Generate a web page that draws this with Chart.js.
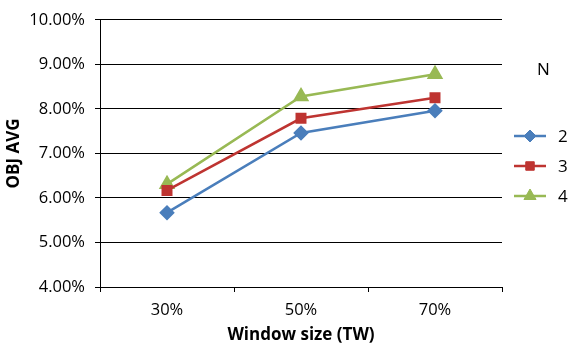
<!DOCTYPE html>
<html><head><meta charset="utf-8">
<script src="https://cdn.jsdelivr.net/npm/chart.js@4/dist/chart.umd.min.js"></script>
<style>html,body{margin:0;padding:0;background:#fff}#wrap{width:568px;height:349px}</style>
</head><body><div id="wrap"><canvas id="c" width="568" height="349"></canvas></div>
<script>
const categories = ["30%", "50%", "70%"];
const seriesNames = ["2", "3", "4"];
const series2 = [5.67, 7.46, 7.96];
const series3 = [6.17, 7.79, 8.25];
const series4 = [6.31, 8.28, 8.78];
const yTicks = [4, 5, 6, 7, 8, 9, 10];
const colors = ["#4A7EBB", "#BE3431", "#98B954"];
const styles = ["rectRot", "rect", "triangle"];
const radii = [6, 6, 7];
const FONT = "'Open Sans', 'DejaVu Sans', sans-serif";

const legendPlugin = {
  id: 'sideLegend',
  afterDraw(chart) {
    const ctx = chart.ctx;
    ctx.save();
    ctx.font = '17px ' + FONT;
    ctx.textBaseline = 'middle';
    ctx.textAlign = 'left';
    ctx.fillStyle = '#000';
    ctx.fillText('N', 537, 70);
    chart.data.datasets.forEach((ds, i) => {
      const y = 136 + i * 30;
      ctx.strokeStyle = ds.borderColor;
      ctx.lineWidth = 2.5;
      ctx.beginPath(); ctx.moveTo(514, y); ctx.lineTo(546, y); ctx.stroke();
      ctx.fillStyle = ds.borderColor;
      ctx.strokeStyle = ds.borderColor;
      ctx.lineWidth = 1;
      Chart.helpers.drawPoint(ctx, {pointStyle: ds.pointStyle, radius: ds.pointRadius, borderWidth: 1, rotation: 0}, 530, y);
      ctx.fillStyle = '#000';
      ctx.fillText(ds.label, 558, y + 1);
    });
    ctx.restore();
  }
};

const vals = [series2, series3, series4];
const datasets = seriesNames.map((n, i) => ({
  label: n,
  data: vals[i],
  borderColor: colors[i],
  backgroundColor: colors[i],
  pointBackgroundColor: colors[i],
  pointBorderColor: colors[i],
  pointStyle: styles[i],
  pointRadius: radii[i],
  borderWidth: 2.5,
  tension: 0
}));

new Chart(document.getElementById('c'), {
  type: 'line',
  data: { labels: categories, datasets },
  options: {
    responsive: false,
    animation: false,
    devicePixelRatio: 1,
    layout: { padding: { top: 17, right: 66, left: 0, bottom: 0 } },
    plugins: { legend: { display: false }, tooltip: { enabled: false } },
    scales: {
      x: {
        offset: true,
        grid: { offset: true, drawOnChartArea: false, tickLength: 5, color: '#000', lineWidth: 1 },
        border: { color: '#000', width: 1 },
        ticks: { color: '#000', font: { size: 16.5, family: FONT }, padding: 8 },
        title: { display: true, text: 'Window size (TW)', color: '#000', font: { size: 17, weight: 'bold', family: FONT }, padding: { top: 2 } },
        afterFit(s) { s.height = 62; }
      },
      y: {
        min: 4, max: 10,
        afterBuildTicks(s) { s.ticks = yTicks.map(v => ({ value: v })); },
        grid: { color: '#000', lineWidth: 1, tickLength: 5 },
        border: { color: '#000', width: 1 },
        ticks: { color: '#000', font: { size: 16.5, family: FONT }, padding: 10, callback: v => Number(v).toFixed(2) + '%' },
        title: { display: true, text: 'OBJ AVG', color: '#000', font: { size: 17, weight: 'bold', family: FONT }, padding: { bottom: 2 } },
        afterFit(s) { s.width = 100; }
      }
    }
  },
  plugins: [legendPlugin]
});
</script>
</body></html>
